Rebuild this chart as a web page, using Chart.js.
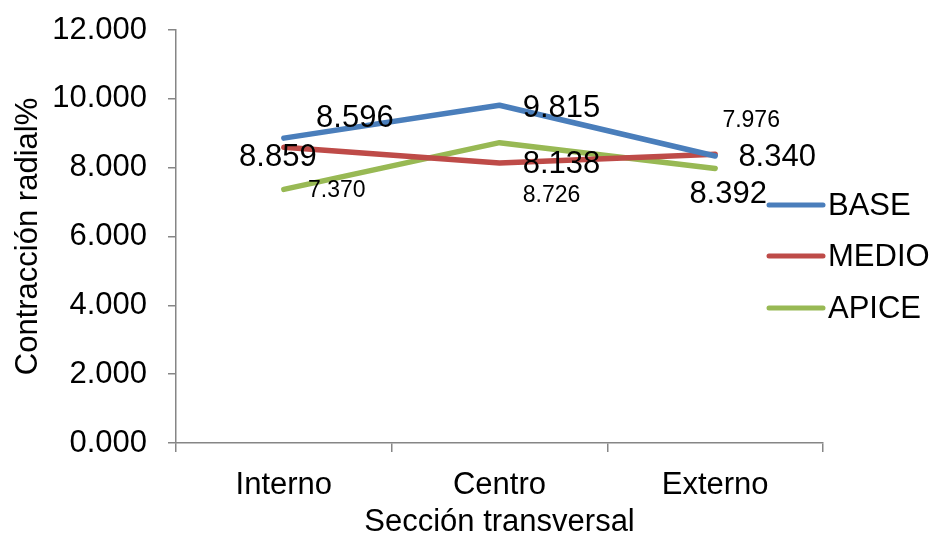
<!DOCTYPE html>
<html>
<head>
<meta charset="utf-8">
<script src="https://cdn.jsdelivr.net/npm/chart.js@4/dist/chart.umd.min.js"></script>
<style>
  html, body { margin: 0; padding: 0; background: #ffffff; }
  #wrap { width: 934px; height: 538px; }
</style>
</head>
<body>
<div id="wrap"><canvas id="c" width="934" height="538"></canvas></div>
<script>
// Secciones de la muestra
const categories = ['Interno', 'Centro', 'Externo'];

// Contracción radial (%) por altura del árbol
const base  = [8.859, 9.815, 8.340];
const medio = [8.596, 8.138, 8.392];
const apice = [7.370, 8.726, 7.976];

const seriesNames = ['BASE', 'MEDIO', 'APICE'];
const yTicks = [0, 2, 4, 6, 8, 10, 12];

const FONT = '"Liberation Sans", Arial, sans-serif';
const colors = ['#4A7EBB', '#BE4B48', '#98B954'];
const axisColor = '#868686';

// Desplazamiento de cada etiqueta respecto a su punto (px) y tamaño de letra
const labelPlacement = [
  [{dx: -6, dy: 19, size: 31}, {dx: 62, dy: 3, size: 31}, {dx: 62, dy: 1, size: 31}],
  [{dx: 71, dy: -29, size: 31}, {dx: 62, dy: 2, size: 31}, {dx: 13, dy: 40, size: 31}],
  [{dx: 53, dy: 1, size: 23}, {dx: 52, dy: 53, size: 23}, {dx: 36, dy: -48, size: 23}]
];

const valueLabels = {
  id: 'valueLabels',
  afterDatasetsDraw(chart) {
    const ctx = chart.ctx;
    ctx.save();
    ctx.fillStyle = '#000000';
    ctx.textAlign = 'center';
    ctx.textBaseline = 'middle';
    chart.data.datasets.forEach((ds, i) => {
      const meta = chart.getDatasetMeta(i);
      meta.data.forEach((pt, j) => {
        const p = labelPlacement[i][j];
        ctx.font = p.size + 'px ' + FONT;
        ctx.fillText(ds.data[j].toFixed(3), pt.x + p.dx, pt.y + p.dy);
      });
    });
    ctx.restore();
  }
};

const sideLegend = {
  id: 'sideLegend',
  afterDraw(chart) {
    const ctx = chart.ctx;
    const right = chart.chartArea.right;
    const rows = [205, 256, 308];
    ctx.save();
    ctx.font = '31px ' + FONT;
    ctx.textAlign = 'left';
    ctx.textBaseline = 'middle';
    chart.data.datasets.forEach((ds, i) => {
      const y = rows[i];
      ctx.strokeStyle = ds.borderColor;
      ctx.lineWidth = 5;
      ctx.lineCap = 'round';
      ctx.beginPath();
      ctx.moveTo(right - 54, y);
      ctx.lineTo(right, y);
      ctx.stroke();
      ctx.fillStyle = '#000000';
      ctx.fillText(ds.label, right + 5, y + 1);
    });
    ctx.restore();
  }
};

const datasets = [base, medio, apice].map((values, i) => ({
  label: seriesNames[i],
  data: values,
  borderColor: colors[i],
  backgroundColor: colors[i],
  borderWidth: 5.5,
  borderCapStyle: 'round',
  borderJoinStyle: 'round',
  pointRadius: 0,
  pointHoverRadius: 0,
  tension: 0,
  fill: false
}));

new Chart(document.getElementById('c'), {
  type: 'line',
  data: { labels: categories, datasets },
  plugins: [valueLabels, sideLegend],
  options: {
    responsive: false,
    animation: false,
    events: [],
    layout: { padding: { left: 0, top: 30, right: 111, bottom: 0 } },
    plugins: { legend: { display: false }, tooltip: { enabled: false } },
    scales: {
      x: {
        offset: true,
        afterFit(scale) { scale.height = 95; },
        grid: {
          offset: true,
          drawOnChartArea: false,
          drawTicks: true,
          tickLength: 9,
          color: axisColor,
          lineWidth: 1.5
        },
        border: { color: axisColor, width: 1.5 },
        ticks: {
          color: '#000000',
          font: { family: FONT, size: 31 },
          padding: 15,
          maxRotation: 0
        },
        title: {
          display: true,
          text: 'Sección transversal',
          color: '#000000',
          font: { family: FONT, size: 31, lineHeight: 1.0 },
          padding: { top: 0, bottom: 0 }
        }
      },
      y: {
        min: 0,
        max: 12,
        afterFit(scale) {
          scale.width = 176;
          scale.paddingTop = 0;
          scale.paddingBottom = 0;
        },
        afterBuildTicks(scale) { scale.ticks = yTicks.map(v => ({ value: v })); },
        grid: {
          drawOnChartArea: false,
          drawTicks: true,
          tickLength: 8,
          color: axisColor,
          lineWidth: 1.5
        },
        border: { color: axisColor, width: 1.5 },
        ticks: {
          color: '#000000',
          font: { family: FONT, size: 31 },
          padding: 21,
          callback: v => Number(v).toFixed(3)
        },
        title: {
          display: true,
          text: 'Contracción radial%',
          color: '#000000',
          font: { family: FONT, size: 31 },
          padding: { top: 10, bottom: 0 }
        }
      }
    }
  }
});
</script>
</body>
</html>
